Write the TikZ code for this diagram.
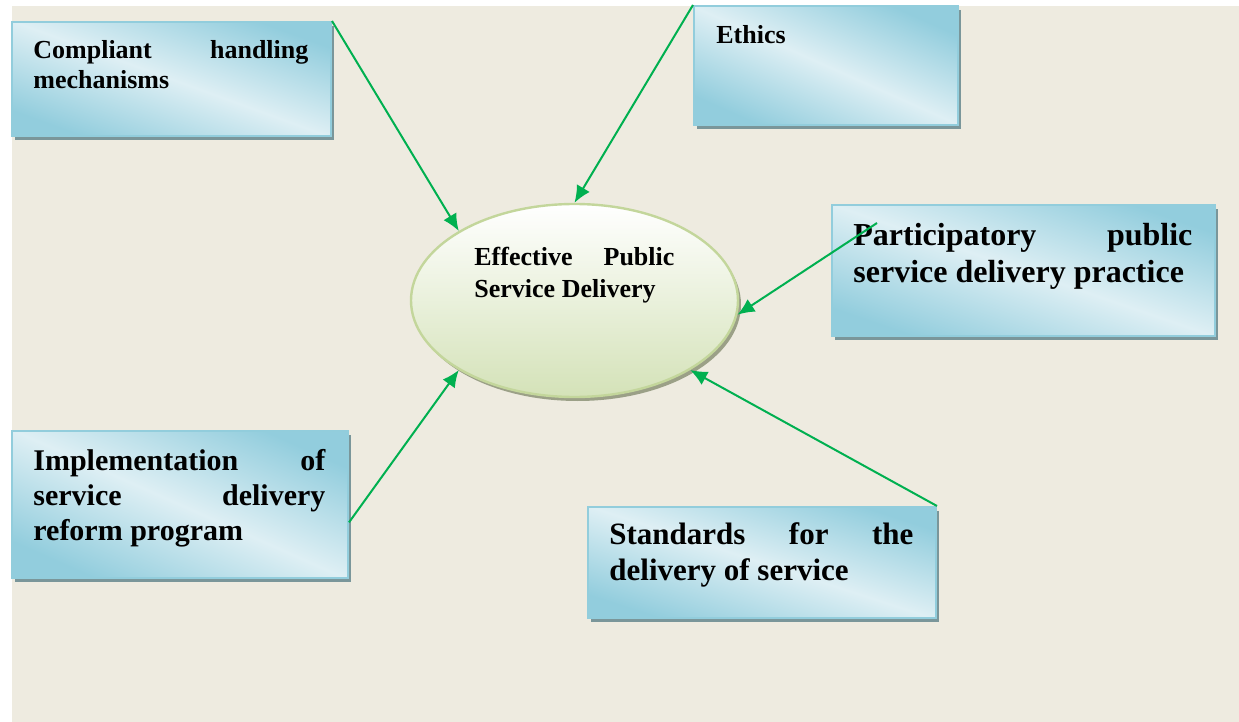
\documentclass[tikz,border=0pt]{standalone}
\usepackage{fontspec}
\setmainfont{Liberation Serif}
\usetikzlibrary{arrows.meta,shapes.geometric,shadows,calc}

\definecolor{paper}{RGB}{238,235,224}
\definecolor{boxdark}{RGB}{146,205,221}
\definecolor{boxlight}{RGB}{222,239,244}
\definecolor{boxedge}{RGB}{146,205,220}
\definecolor{boxshade}{RGB}{122,150,154}
\definecolor{ovaledge}{RGB}{195,214,155}
\definecolor{ovalfill}{RGB}{212,226,184}
\definecolor{ovalshade}{RGB}{155,160,135}
\definecolor{linkgreen}{RGB}{0,176,80}

\pgfdeclareverticalshading{boxglow}{100bp}{color(0bp)=(boxdark); color(25bp)=(boxdark);
	color(50bp)=(boxlight); color(75bp)=(boxdark); color(100bp)=(boxdark)}

\tikzset{
	infobox/.style = {rectangle, draw = boxedge, line width = 1pt, inner sep = 0pt, anchor = north west,
		shading = boxglow, shading angle = #1,
		general shadow = {fill = boxshade, shadow xshift = 1.6pt, shadow yshift = -2pt}},
	infobox/.default = -20,
	goal/.style = {ellipse, draw = ovaledge, line width = 1.2pt, inner sep = 0pt,
		top color = white, bottom color = ovalfill,
		general shadow = {fill = ovalshade, shadow xshift = 1.5pt, shadow yshift = -2pt}},
	boxtext/.style = {anchor = north west, inner sep = 0pt, align = left},
	link/.style = {draw = linkgreen, line width = 1pt, -{Latex[length = 8.5pt, width = 7.5pt]}}
}

\begin{document}
\begin{tikzpicture}[x = 0.5pt, y = -0.5pt]
	\useasboundingbox (0,0) rectangle (1239,722);
	\fill[white] (0,0) rectangle (1239,722);
	\fill[paper] (12,6) rectangle (1239,722);

	\node[infobox = -20, minimum width = 159.5pt, minimum height = 57pt] (comp) at (11,21) {};
	\node[infobox = -24, minimum width = 132pt, minimum height = 59.5pt] (eth) at (693,5) {};
	\node[infobox = -19, minimum width = 191.5pt, minimum height = 65.5pt] (part) at (831,204) {};
	\node[infobox = -24, minimum width = 168pt, minimum height = 73.5pt] (impl) at (11,430) {};
	\node[infobox = -18, minimum width = 174pt, minimum height = 55.5pt] (std) at (587,506) {};
	\node[goal, minimum width = 163.5pt, minimum height = 96.5pt] (eff) at (574.5,300.5) {};

	\node[boxtext, font = \fontsize{13}{15}\selectfont\bfseries] (comptext) at (33,40)
		{\makebox[137.5pt][s]{Compliant handling}\\mechanisms};
	\node[boxtext, font = \fontsize{13}{15}\selectfont\bfseries] (ethtext) at (716,25) {Ethics};
	\node[boxtext, font = \fontsize{13}{16}\selectfont\bfseries] (efftext) at (474,247)
		{\makebox[100pt][s]{Effective Public}\\Service Delivery};
	\node[boxtext, font = \fontsize{16}{18.5}\selectfont\bfseries] (parttext) at (853,223)
		{\makebox[169.5pt][s]{Participatory public}\\service delivery practice};
	\node[boxtext, font = \fontsize{15}{17.5}\selectfont\bfseries] (impltext) at (33,449)
		{\makebox[146pt][s]{Implementation of}\\\makebox[146pt][s]{service delivery}\\reform program};
	\node[boxtext, font = \fontsize{15.5}{18}\selectfont\bfseries] (stdtext) at (609,522)
		{\makebox[152pt][s]{Standards for the}\\delivery of service};

	\coordinate (partfrom) at (877,223);
	\draw[link] (comp.north east) -- (eff.149);
	\draw[link] (eth.north west) -- (eff.north);
	\draw[link] (partfrom) -- (eff.-5);
	\draw[link] ($(impl.north east)!0.62!(impl.south east)$) -- (eff.-149);
	\draw[link] (std.north east) -- (eff.-31);
\end{tikzpicture}
\end{document}
